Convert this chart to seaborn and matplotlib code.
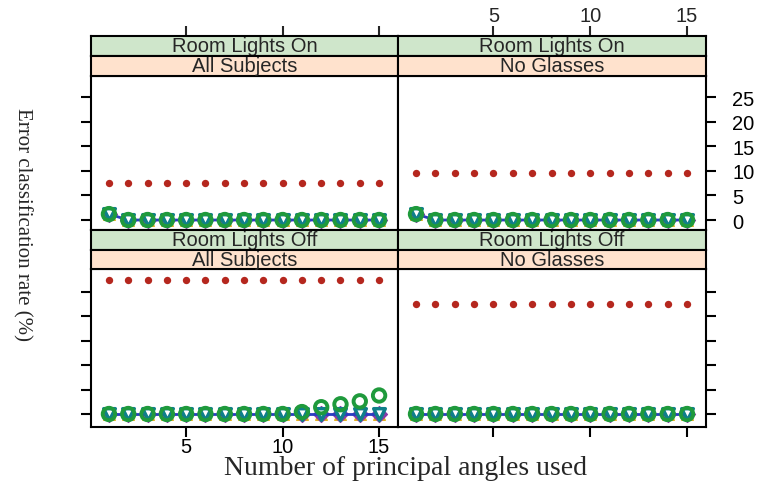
import numpy as np
import pandas as pd
import seaborn as sns
import matplotlib.pyplot as plt

sns.set_style("white")
plt.rcParams['font.family'] = ['Liberation Sans', 'DejaVu Sans']

# Veri
n_angles = list(range(1, 16))
panels = ["on_all", "on_noglass", "off_all", "off_noglass"]
lights = ["Room Lights On", "Room Lights On", "Room Lights Off", "Room Lights Off"]
subjects = ["All Subjects", "No Glasses", "All Subjects", "No Glasses"]

red_on_all = [7.6] * 15
red_on_noglass = [9.6] * 15
red_off_all = [27.4] * 15
red_off_noglass = [22.6] * 15

first_on = [1.2] + [0.0] * 14
flat = [0.0] * 15
green_off_all = [0.0] * 10 + [0.4, 1.4, 2.0, 2.6, 3.8]

series = {
    "red":    [red_on_all, red_on_noglass, red_off_all, red_off_noglass],
    "gold":   [first_on, first_on, flat, flat],
    "purple": [first_on, first_on, flat, flat],
    "blue":   [first_on, first_on, flat, flat],
    "teal":   [first_on, first_on, flat, flat],
    "green":  [first_on, first_on, green_off_all, flat],
}

rows = []
for name, vals in series.items():
    for p, v in zip(panels, vals):
        for x, y in zip(n_angles, v):
            rows.append({"method": name, "panel": p, "n": x, "err": y})
df = pd.DataFrame(rows)

styles = {
    "red":    dict(marker="o", s=28, color="#b5271e", edgecolor="#b5271e", linewidth=0),
    "gold":   dict(marker="^", s=70, color="#e0b020", edgecolor="#e0b020", linewidth=1),
    "purple": dict(marker="D", s=65, color="#8a3aa8", edgecolor="#8a3aa8", linewidth=1),
    "teal":   dict(marker="v", s=70, facecolor="white", edgecolor="#0f7f8a", linewidth=2.5),
    "green":  dict(marker="o", s=80, facecolor="none", edgecolor="#1f9a3c", linewidth=2.8),
}

fig = plt.figure(figsize=(7.66, 4.85), dpi=100)
W, H = 766, 485


def box(x0, y0, x1, y1):
    return [x0 / W, (H - y1) / H, (x1 - x0) / W, (y1 - y0) / H]


cols_x = [(91, 398), (398, 706)]
panel_y = [(77, 231), (270, 428)]
strip_y = [((37, 57), (57, 77)), ((231, 251), (251, 270))]
ylims = [(-2.03, 29.27), (-2.66, 29.71)]
xlim = (0.07, 15.98)

for i, p in enumerate(panels):
    r, c = divmod(i, 2)
    x0, x1 = cols_x[c]
    ax = fig.add_axes(box(x0, panel_y[r][0], x1, panel_y[r][1]))
    d = df[df["panel"] == p]
    for m in ["red", "gold", "purple"]:
        sns.scatterplot(data=d[d["method"] == m], x="n", y="err", ax=ax, legend=False, zorder=3, **styles[m])
    sns.lineplot(data=d[d["method"] == "blue"], x="n", y="err", ax=ax, color="#2a3cc0", lw=2, legend=False, zorder=3)
    for m in ["teal", "green"]:
        sns.scatterplot(data=d[d["method"] == m], x="n", y="err", ax=ax, legend=False, zorder=4, **styles[m])
    ax.set_xlim(*xlim)
    ax.set_ylim(*ylims[r])
    ax.set_xlabel("")
    ax.set_ylabel("")
    for s in ax.spines.values():
        s.set_linewidth(1.5)
        s.set_color("black")
    ax.set_xticks([5, 10, 15])
    ax.set_yticks([0, 5, 10, 15, 20, 25])
    ax.tick_params(axis="y", direction="out", length=7, width=1.5, labelsize=14.5, colors="black", pad=12,
                   left=(c == 0), right=(c == 1), labelleft=False, labelright=(c == 1 and r == 0))
    ax.tick_params(axis="x", direction="out", length=7, width=1.5, labelsize=14.5, colors="black", pad=0,
                   top=False, bottom=(r == 1), labeltop=False, labelbottom=(r == 1 and c == 0))

    # strips
    (g0, g1), (o0, o1) = strip_y[r]
    for (y0, y1), txt, fc in [((g0, g1), lights[i], "#cfe6cb"), ((o0, o1), subjects[i], "#ffe2cd")]:
        sa = fig.add_axes(box(x0, y0, x1, y1))
        sa.set_facecolor(fc)
        sa.set_xlim(*xlim)
        sa.set_yticks([])
        if r == 0 and fc == "#cfe6cb":
            sa.set_xticks([5, 10, 15])
            sa.tick_params(axis="x", direction="out", length=7, width=1.5, labelsize=14.5, pad=1,
                           top=True, bottom=False, labeltop=(c == 1), labelbottom=False)
        else:
            sa.set_xticks([])
        for s in sa.spines.values():
            s.set_linewidth(1.5)
            s.set_color("black")
        sa.text(0.5, 0.52, txt, ha="center", va="center", fontsize=14.5, transform=sa.transAxes)

fig.text(406 / W, 1 - 469 / H, "Number of principal angles used", ha="center", va="center",
         fontsize=20, family=["Liberation Serif", "DejaVu Serif"])
fig.text(22 / W, 1 - 225 / H, "Error classification rate (%)", ha="center", va="center",
         rotation=-90, fontsize=15, family=["Liberation Serif", "DejaVu Serif"])

fig.savefig("out.png", dpi=100)
